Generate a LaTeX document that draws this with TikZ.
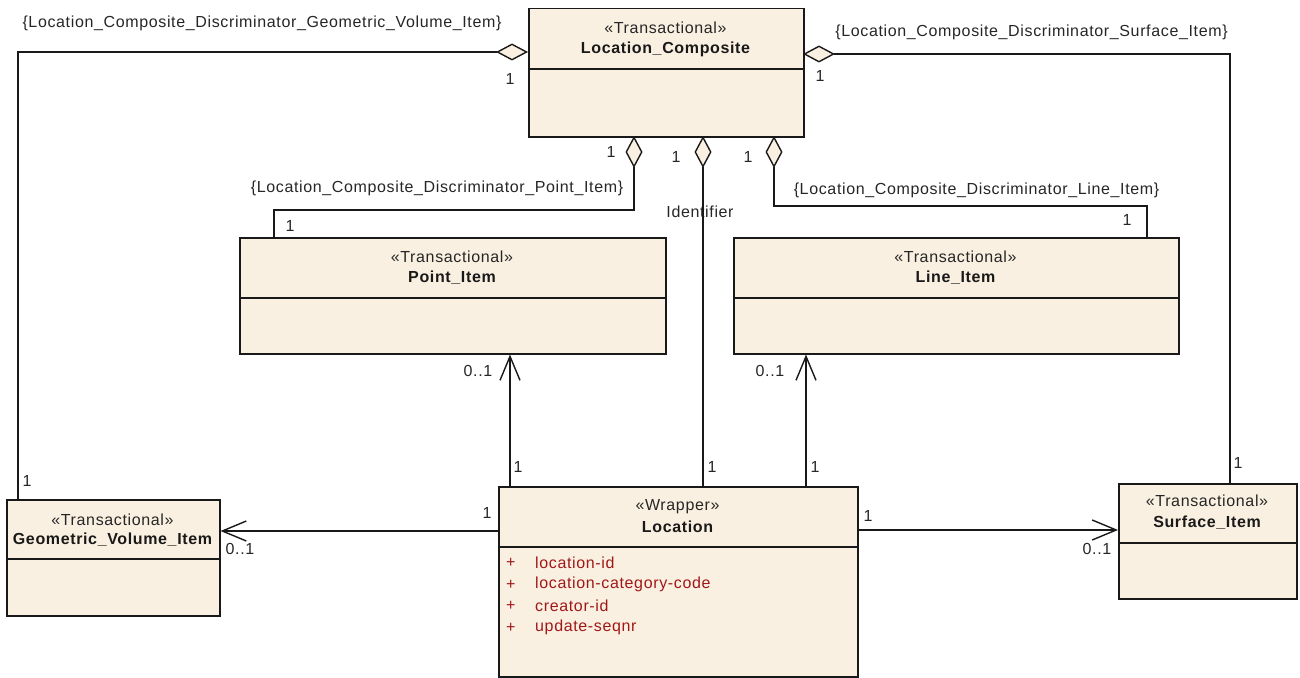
\documentclass[tikz,border=0pt]{standalone}
\usepackage{fontspec}
\setmainfont{Liberation Sans}[LetterSpace=4]
\usetikzlibrary{arrows.meta}
\definecolor{umlfill}{RGB}{250,240,225}
\definecolor{umlline}{RGB}{25,25,25}
\definecolor{attrcol}{RGB}{160,24,24}
\tikzset{
  cls/.style={draw=umlline, fill=umlfill, line width=1.5pt, rectangle, inner sep=0pt, anchor=north west},
  divider/.style={draw=umlline, line width=1.5pt},
  txt/.style={inner sep=0pt, font=\fontsize{16}{19}\selectfont, text=black!85},
  ttl/.style={inner sep=0pt, font=\fontsize{16}{19}\selectfont\bfseries, text=black!90},
  attr/.style={inner sep=0pt, font=\fontsize{16}{19}\selectfont, text=attrcol, anchor=west},
  conn/.style={draw=umlline, line width=1.4pt},
  agg/.style={conn, {Diamond[length=32pt,width=17pt,fill=umlfill]}-},
  nav/.style={conn, -{Straight Barb[length=24pt,width=20pt]}},
}
\begin{document}
\begin{tikzpicture}[x=1pt,y=-1pt]
\useasboundingbox (0,0) rectangle (1300,677);
% ---- classes ----
\node[cls, minimum width=275pt, minimum height=128pt] (lc) at (528,8) {};
\draw[divider] (lc.west |- 0,69) -- (lc.east |- 0,69);
\node[txt] (lcS) at (665.5,28) {«Transactional»};
\node[ttl] (lcT) at (665.5,49) {Location\_Composite};

\node[cls, minimum width=426pt, minimum height=116pt] (pi) at (239,237) {};
\draw[divider] (pi.west |- 0,298) -- (pi.east |- 0,298);
\node[txt] (piS) at (452,257) {«Transactional»};
\node[ttl] (piT) at (452,278) {Point\_Item};

\node[cls, minimum width=445pt, minimum height=116pt] (li) at (733,237) {};
\draw[divider] (li.west |- 0,298) -- (li.east |- 0,298);
\node[txt] (liS) at (955.5,257) {«Transactional»};
\node[ttl] (liT) at (955.5,278) {Line\_Item};

\node[cls, minimum width=213pt, minimum height=116pt] (gv) at (6,499) {};
\draw[divider] (gv.west |- 0,559) -- (gv.east |- 0,559);
\node[txt] (gvS) at (112.5,520) {«Transactional»};
\node[ttl] (gvT) at (112.5,540) {Geometric\_Volume\_Item};

\node[cls, minimum width=359pt, minimum height=190pt] (loc) at (498,486) {};
\draw[divider] (loc.west |- 0,547) -- (loc.east |- 0,547);
\node[txt] (locS) at (677.5,507) {«Wrapper»};
\node[ttl] (locT) at (677.5,527) {Location};
\node[attr] (p1) at (506,563) {+};
\node[attr] (a1) at (535,563) {location-id};
\node[attr] (p2) at (506,584.5) {+};
\node[attr] (a2) at (535,584.5) {location-category-code};
\node[attr] (p3) at (506,606) {+};
\node[attr] (a3) at (535,606) {creator-id};
\node[attr] (p4) at (506,627.5) {+};
\node[attr] (a4) at (535,627.5) {update-seqnr};

\node[cls, minimum width=178pt, minimum height=115pt] (si) at (1118,483) {};
\draw[divider] (si.west |- 0,543) -- (si.east |- 0,543);
\node[txt] (siS) at (1207,501) {«Transactional»};
\node[ttl] (siT) at (1207,523) {Surface\_Item};

% ---- connector end points ----
\coordinate (gvA) at (528,52);
\coordinate (gvB) at (18,52);
\coordinate (siA) at (803,54);
\coordinate (siB) at (1230,54);
\coordinate (piA) at (634,136);
\coordinate (piB) at (634,210);
\coordinate (piC) at (274,210);
\coordinate (liA) at (774,136);
\coordinate (liB) at (774,206);
\coordinate (liC) at (1147,206);
\coordinate (idA) at (703,136);

% ---- labels behind lines ----
\node[txt] (idL) at (700,212) {Identifier};

% ---- aggregations ----
\draw[agg] (gvA) -- (gvB) -- (gvB |- gv.north);
\draw[agg] (siA) -- (siB) -- (siB |- si.north);
\draw[agg] (piA) -- (piB) -- (piC) -- (piC |- pi.north);
\draw[agg] (liA) -- (liB) -- (liC) -- (liC |- li.north);
\draw[agg] (idA) -- (idA |- loc.north);

% ---- navigable associations ----
\draw[nav] (loc.north -| 510,0) -- (pi.south -| 510,0);
\draw[nav] (loc.north -| 806,0) -- (li.south -| 806,0);
\draw[nav] (loc.west |- 0,531) -- (gv.east |- 0,531);
\draw[nav] (loc.east |- 0,530) -- (si.west |- 0,530);

% ---- role / constraint labels ----
\node[txt] (gvCon) at (262,23) {\{Location\_Composite\_Discriminator\_Geometric\_Volume\_Item\}};
\node[txt] (siCon) at (1031.5,32) {\{Location\_Composite\_Discriminator\_Surface\_Item\}};
\node[txt] (piCon) at (437,188) {\{Location\_Composite\_Discriminator\_Point\_Item\}};
\node[txt] (liCon) at (976.5,190) {\{Location\_Composite\_Discriminator\_Line\_Item\}};

\node[txt] (m1) at (510,79) {1};
\node[txt] (m2) at (27,481) {1};
\node[txt] (m3) at (820,76) {1};
\node[txt] (m4) at (1238,463) {1};
\node[txt] (m5) at (611,152) {1};
\node[txt] (m6) at (290,226) {1};
\node[txt] (m7) at (676,157) {1};
\node[txt] (m8) at (712,467) {1};
\node[txt] (m9) at (748,157) {1};
\node[txt] (m10) at (1127,220) {1};
\node[txt] (m11) at (478,371) {0..1};
\node[txt] (m12) at (518,467) {1};
\node[txt] (m13) at (770,371) {0..1};
\node[txt] (m14) at (815,467) {1};
\node[txt] (m15) at (240,549) {0..1};
\node[txt] (m16) at (487,513) {1};
\node[txt] (m17) at (868,516) {1};
\node[txt] (m18) at (1097,549) {0..1};
\end{tikzpicture}
\end{document}
